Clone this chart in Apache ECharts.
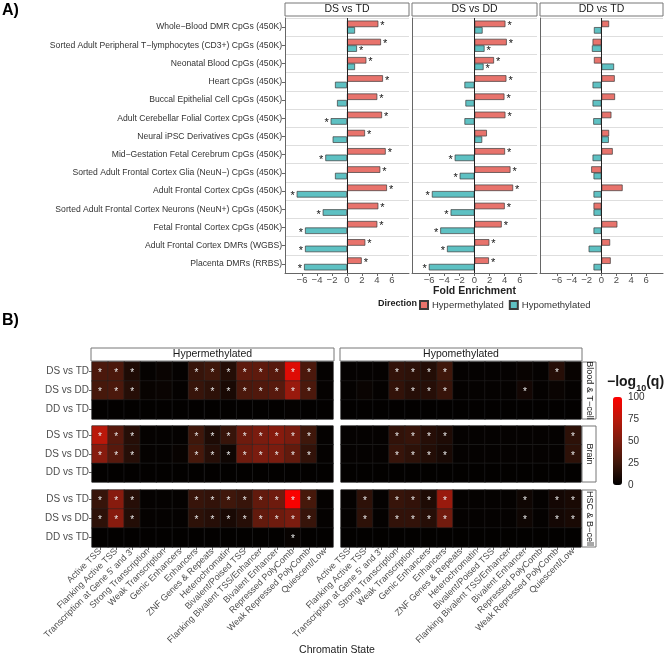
<!DOCTYPE html>
<html>
<head>
<meta charset="utf-8">
<script src="https://cdn.jsdelivr.net/npm/echarts@6/dist/echarts.min.js"></script>
<style>
html, body { margin: 0; padding: 0; background: #fff; }
#chart { width: 666px; height: 656px; }
</style>
</head>
<body>
<div id="chart"></div>
<script>
// ---- panel A data ----
const rowLabels = [
  'Whole−Blood DMR CpGs (450K)',
  'Sorted Adult Peripheral T−lymphocytes (CD3+) CpGs (450K)',
  'Neonatal Blood CpGs (450K)',
  'Heart CpGs (450K)',
  'Buccal Epithelial Cell CpGs (450K)',
  'Adult Cerebellar Folial Cortex CpGs (450K)',
  'Neural iPSC Derivatives CpGs (450K)',
  'Mid−Gestation Fetal Cerebrum CpGs (450K)',
  'Sorted Adult Frontal Cortex Glia (NeuN−) CpGs (450K)',
  'Adult Frontal Cortex CpGs (450K)',
  'Sorted Adult Frontal Cortex Neurons (NeuN+) CpGs (450K)',
  'Fetal Frontal Cortex CpGs (450K)',
  'Adult Frontal Cortex DMRs (WGBS)',
  'Placenta DMRs (RRBS)'
];
const facetNames = ['DS vs TD', 'DS vs DD', 'DD vs TD'];
const foldTicks = [-6, -4, -2, 0, 2, 4, 6];

const dsTdHyper = [4.18, 4.53, 2.58, 4.8, 4.04, 4.67, 2.4, 5.16, 4.44, 5.33, 4.18, 4.04, 2.44, 1.96];
const dsTdHypo = [1.07, 1.33, 1.07, -1.6, -1.33, -2.18, -1.91, -2.89, -1.6, -6.71, -3.24, -5.6, -5.6, -5.73];
const dsDdHyper = [4.09, 4.27, 2.58, 4.22, 3.96, 4.09, 1.64, 4.04, 4.76, 5.11, 4.0, 3.6, 1.96, 1.91];
const dsDdHypo = [1.07, 1.33, 1.2, -1.33, -1.2, -1.33, 1.02, -2.62, -1.96, -5.64, -3.16, -4.53, -3.64, -6.04];
const ddTdHyper = [1.02, -1.2, -1.02, 1.78, 1.82, 1.33, 1.02, 1.51, -1.38, 2.84, -1.07, 2.13, 1.16, 1.24];
const ddTdHypo = [-1.02, -1.29, 1.69, -1.2, -1.2, -1.11, 0.98, -1.2, -1.07, -1.07, -1.07, -1.07, -1.73, -1.07];

// 1 = significant (star)
const dsTdHyperSig = [1, 1, 1, 1, 1, 1, 1, 1, 1, 1, 1, 1, 1, 1];
const dsTdHypoSig = [0, 1, 0, 0, 0, 1, 0, 1, 0, 1, 1, 1, 1, 1];
const dsDdHyperSig = [1, 1, 1, 1, 1, 1, 0, 1, 1, 1, 1, 1, 1, 1];
const dsDdHypoSig = [0, 1, 1, 0, 0, 0, 0, 1, 1, 1, 1, 1, 1, 1];
const ddTdHyperSig = [0, 0, 0, 0, 0, 0, 0, 0, 0, 0, 0, 0, 0, 0];
const ddTdHypoSig = [0, 0, 0, 0, 0, 0, 0, 0, 0, 0, 0, 0, 0, 0];

// ---- panel B data ----
const chromStates = [
  'Active TSS', 'Flanking Active TSS', "Transcription at Gene 5' and 3'",
  'Strong Transcription', 'Weak Transcription', 'Genic Enhancers', 'Enhancers',
  'ZNF Genes & Repeats', 'Heterochromatin', 'Bivalent/Poised TSS',
  'Flanking Bivalent TSS/Enhancer', 'Bivalent Enhancer', 'Repressed PolyComb',
  'Weak Repressed PolyComb', 'Quiescent/Low'
];
const contrasts = ['DS vs TD', 'DS vs DD', 'DD vs TD'];
const tissues = ['Blood & T−cell', 'Brain', 'HSC & B−cell'];
const directions = ['Hypermethylated', 'Hypomethylated'];
const colorTicks = [0, 25, 50, 75, 100];

const bloodHyper = [
  [30, 30, 12, 2, 4, 2, 22, 25, 14, 38, 38, 35, 88, 30, 2],
  [28, 30, 15, 3, 4, 2, 22, 18, 10, 30, 32, 35, 62, 30, 2],
  [1, 1, 1, 1, 1, 1, 1, 1, 1, 1, 1, 1, 2, 1, 1]
];
const bloodHypo = [
  [2, 2, 2, 20, 18, 14, 25, 2, 2, 2, 2, 3, 2, 15, 3],
  [2, 4, 2, 20, 15, 15, 22, 2, 2, 2, 2, 8, 2, 4, 2],
  [1, 1, 1, 1, 1, 1, 1, 1, 1, 1, 1, 1, 1, 1, 1]
];
const brainHyper = [
  [75, 35, 15, 2, 2, 2, 25, 12, 22, 45, 50, 55, 50, 25, 2],
  [55, 35, 15, 2, 2, 3, 28, 15, 6, 45, 50, 50, 40, 20, 2],
  [1, 1, 1, 1, 1, 1, 1, 1, 1, 1, 1, 1, 1, 1, 1]
];
const brainHypo = [
  [2, 2, 2, 20, 22, 15, 12, 2, 2, 2, 2, 2, 2, 2, 18],
  [2, 2, 2, 22, 18, 14, 10, 2, 2, 2, 2, 2, 2, 2, 18],
  [1, 1, 1, 1, 1, 1, 1, 1, 1, 1, 1, 1, 1, 1, 1]
];
const hscHyper = [
  [22, 55, 15, 2, 2, 2, 22, 20, 25, 22, 40, 45, 98, 28, 2],
  [18, 55, 14, 2, 2, 2, 18, 15, 10, 15, 40, 45, 50, 22, 2],
  [1, 1, 1, 1, 1, 1, 1, 1, 1, 1, 1, 1, 3, 1, 1]
];
const hscHypo = [
  [2, 18, 2, 22, 20, 12, 62, 2, 2, 2, 2, 6, 2, 8, 10],
  [2, 18, 2, 20, 20, 15, 46, 2, 2, 2, 2, 6, 2, 8, 10],
  [1, 1, 1, 1, 1, 1, 1, 1, 1, 1, 1, 1, 1, 1, 1]
];

// significant columns per contrast row
const bloodHyperSig = [[0, 1, 2, 6, 7, 8, 9, 10, 11, 12, 13], [0, 1, 2, 6, 7, 8, 9, 10, 11, 12, 13], []];
const bloodHypoSig = [[3, 4, 5, 6, 13], [3, 4, 5, 6, 11], []];
const brainHyperSig = [[0, 1, 2, 6, 7, 8, 9, 10, 11, 12, 13], [0, 1, 2, 6, 7, 8, 9, 10, 11, 12, 13], []];
const brainHypoSig = [[3, 4, 5, 6, 14], [3, 4, 5, 6, 14], []];
const hscHyperSig = [[0, 1, 2, 6, 7, 8, 9, 10, 11, 12, 13], [0, 1, 2, 6, 7, 8, 9, 10, 11, 12, 13], [12]];
const hscHypoSig = [[1, 3, 4, 5, 6, 11, 13, 14], [1, 3, 4, 5, 6, 11, 13, 14], []];

const FONT = '"Liberation Sans", Arial, Helvetica, sans-serif';
const minus = v => (v < 0 ? '−' + Math.abs(v) : String(v));

const foldHyper = [dsTdHyper, dsDdHyper, ddTdHyper];
const foldHypo = [dsTdHypo, dsDdHypo, ddTdHypo];
const foldHyperSig = [dsTdHyperSig, dsDdHyperSig, ddTdHyperSig];
const foldHypoSig = [dsTdHypoSig, dsDdHypoSig, ddTdHypoSig];
const heat = [[bloodHyper, bloodHypo], [brainHyper, brainHypo], [hscHyper, hscHypo]];
const heatSig = [[bloodHyperSig, bloodHypoSig], [brainHyperSig, brainHypoSig], [hscHyperSig, hscHypoSig]];

const grid = [], xAxis = [], yAxis = [], series = [];
const graphic = [];

// ---- panel A: facets of horizontal bars ----
const aBox = [[285, 124], [412, 125], [540, 123]];
aBox.forEach(function (b, f) {
  grid.push({ left: b[0], top: 18, width: b[1], height: 255, outerBoundsMode: 'none' });
  xAxis.push({
    type: 'value', gridIndex: f, min: -8.27, max: 8.27,
    splitLine: { show: false },
    axisLine: { show: true, onZero: false, lineStyle: { color: '#666' } },
    axisTick: { show: true, length: 3, customValues: foldTicks, lineStyle: { color: '#666' } },
    axisLabel: { customValues: foldTicks, formatter: minus, fontSize: 9.5, color: '#4d4d4d', margin: 2, fontFamily: FONT },
    name: f === 1 ? 'Fold Enrichment' : '',
    nameLocation: 'middle', nameGap: 13,
    nameTextStyle: { fontSize: 10.5, fontWeight: 'bold', color: '#222', fontFamily: FONT }
  });
  yAxis.push({
    type: 'category', gridIndex: f, data: rowLabels, inverse: true,
    axisLine: { show: true, onZero: false, lineStyle: { color: '#666' } },
    axisTick: { show: f === 0, alignWithLabel: true, length: 3, lineStyle: { color: '#666' } },
    axisLabel: { show: f === 0, fontSize: 8.6, color: '#333', margin: 3, fontFamily: FONT },
    splitLine: { show: true, lineStyle: { color: '#dedede', width: 1 } }
  });
  const starLabel = {
    show: true, fontSize: 11, color: '#111', distance: 2, offset: [0, 2], fontFamily: FONT,
    formatter: p => (p.data.sig ? '*' : '')
  };
  series.push({
    name: 'Hypermethylated', type: 'bar', xAxisIndex: f, yAxisIndex: f,
    barWidth: 6.5, barGap: '0%',
    itemStyle: { color: '#E8736C', borderColor: '#3b3b3b', borderWidth: 0.7 },
    label: starLabel,
    data: foldHyper[f].map((v, i) => ({ value: v, sig: foldHyperSig[f][i], label: { position: v >= 0 ? 'right' : 'left' } })),
    markLine: {
      silent: true, symbol: 'none', label: { show: false },
      lineStyle: { color: '#222', width: 1, type: 'solid' },
      data: [{ xAxis: 0 }]
    }
  });
  series.push({
    name: 'Hypomethylated', type: 'bar', xAxisIndex: f, yAxisIndex: f,
    barWidth: 6.5, barGap: '0%',
    itemStyle: { color: '#5EC1C3', borderColor: '#3b3b3b', borderWidth: 0.7 },
    label: starLabel,
    data: foldHypo[f].map((v, i) => ({ value: v, sig: foldHypoSig[f][i], label: { position: v >= 0 ? 'right' : 'left' } }))
  });
  // facet strip
  graphic.push({ type: 'rect', shape: { x: b[0], y: 3, width: b[1], height: 13 }, style: { fill: '#fff', stroke: '#777', lineWidth: 1 } });
  graphic.push({ type: 'text', x: b[0] + b[1] / 2, y: 9.5, style: { text: facetNames[f], align: 'center', verticalAlign: 'middle', fontSize: 10.5, fill: '#1a1a1a', fontFamily: FONT } });
});

// ---- panel B: heatmaps ----
const bTops = [362, 426, 490], bHeights = [57, 56, 57];
const bBox = [[92, 241], [341, 240]];
const heatIdx = [];
tissues.forEach(function (t, g) {
  bBox.forEach(function (b, d) {
    const gi = grid.length;
    grid.push({ left: b[0], top: bTops[g], width: b[1], height: bHeights[g], outerBoundsMode: 'none',
      show: true, borderColor: '#888', borderWidth: 1, backgroundColor: 'transparent' });
    xAxis.push({
      type: 'category', gridIndex: gi, data: chromStates,
      axisLine: { show: false },
      axisTick: { show: g === 2, alignWithLabel: true, length: 3, lineStyle: { color: '#666' } },
      axisLabel: { show: g === 2, rotate: 45, interval: 0, fontSize: 9, color: '#4d4d4d', margin: 3, fontFamily: FONT },
      splitLine: { show: false }
    });
    yAxis.push({
      type: 'category', gridIndex: gi, data: contrasts, inverse: true,
      axisLine: { show: false },
      axisTick: { show: d === 0, alignWithLabel: true, length: 3, lineStyle: { color: '#666' } },
      axisLabel: { show: d === 0, fontSize: 10, color: '#4d4d4d', margin: 3, fontFamily: FONT },
      splitLine: { show: false }
    });
    const data = [];
    heat[g][d].forEach(function (row, r) {
      row.forEach(function (v, c) {
        data.push([c, r, v, heatSig[g][d][r].indexOf(c) >= 0 ? 1 : 0]);
      });
    });
    heatIdx.push(series.length);
    series.push({
      type: 'heatmap', xAxisIndex: gi, yAxisIndex: gi, data: data,
      itemStyle: { borderColor: '#262626', borderWidth: 0.5 },
      label: { show: true, color: '#e8e8e8', fontSize: 10, offset: [0, 2], fontFamily: FONT,
        formatter: p => (p.data[3] ? '*' : '') },
      emphasis: { disabled: true }
    });
    // right strip per tissue
    if (d === 1) {
      graphic.push({ type: 'rect', shape: { x: 582, y: bTops[g], width: 14, height: bHeights[g] }, style: { fill: '#fff', stroke: '#777', lineWidth: 1 } });
      graphic.push({ type: 'text', x: 589, y: bTops[g] + bHeights[g] / 2, rotation: -Math.PI / 2,
        style: { text: t, align: 'center', verticalAlign: 'middle', fontSize: 9, fill: '#1a1a1a', fontFamily: FONT } });
    }
  });
});
// top strips for direction
bBox.forEach(function (b, d) {
  graphic.push({ type: 'rect', shape: { x: b[0] - 1, y: 348, width: b[1] + 2, height: 13 }, style: { fill: '#fff', stroke: '#777', lineWidth: 1 } });
  graphic.push({ type: 'text', x: b[0] + b[1] / 2, y: 354.5, style: { text: directions[d], align: 'center', verticalAlign: 'middle', fontSize: 10.5, fill: '#1a1a1a', fontFamily: FONT } });
});

// colour bar axis
const cbIdx = grid.length;
grid.push({ left: 613, top: 397, width: 9, height: 88, outerBoundsMode: 'none' });
xAxis.push({ type: 'value', gridIndex: cbIdx, show: false, min: 0, max: 1 });
yAxis.push({
  type: 'value', gridIndex: cbIdx, min: 0, max: 100, interval: 25, position: 'right', z: 10,
  axisLine: { show: false }, splitLine: { show: false },
  axisTick: { show: true, inside: true, length: 2, customValues: colorTicks, lineStyle: { color: '#fff' } },
  axisLabel: { customValues: colorTicks, fontSize: 10, color: '#333', margin: 6, fontFamily: FONT }
});

graphic.push({ type: 'text', x: 378, y: 304, style: { text: 'Direction', verticalAlign: 'middle', fontSize: 9, fontWeight: 'bold', fill: '#1a1a1a', fontFamily: FONT } });
graphic.push({ type: 'text', x: 337, y: 650, style: { text: 'Chromatin State', align: 'center', verticalAlign: 'middle', fontSize: 10.5, fill: '#1a1a1a', fontFamily: FONT } });

const option = {
  animation: false,
  backgroundColor: '#fff',
  textStyle: { fontFamily: FONT },
  title: [
    { text: 'A)', left: 2, top: 3, padding: 0, textStyle: { fontSize: 16, fontWeight: 'bold', color: '#000', fontFamily: FONT } },
    { text: 'B)', left: 2, top: 313, padding: 0, textStyle: { fontSize: 16, fontWeight: 'bold', color: '#000', fontFamily: FONT } },
    { text: '{a|−log}{s|10}{a|(q)}', left: 607, top: 375, padding: 0,
      textStyle: { rich: {
        a: { fontSize: 14, color: '#1a1a1a', fontFamily: FONT, verticalAlign: 'top', lineHeight: 18 },
        s: { fontSize: 9, color: '#1a1a1a', fontFamily: FONT, verticalAlign: 'bottom', lineHeight: 18 }
      } } }
  ],
  legend: {
    data: ['Hypermethylated', 'Hypomethylated'],
    left: 419, top: 300, padding: 0, itemWidth: 8, itemHeight: 8, itemGap: 5,
    icon: 'rect', selectedMode: false,
    textStyle: { fontSize: 9.5, color: '#333', fontFamily: FONT, padding: [0, 0, 0, -1] }
  },
  visualMap: {
    type: 'continuous', min: 0, max: 100, dimension: 2, seriesIndex: heatIdx,
    left: 613, top: 397, itemWidth: 9, itemHeight: 88, padding: 0,
    calculable: false, hoverLink: false, text: null, showLabel: false,
    inRange: { color: ['#000000', '#3f170b', '#7a1c0f', '#ba180a', '#ff0000'] }
  },
  grid: grid,
  xAxis: xAxis,
  yAxis: yAxis,
  series: series,
  graphic: graphic
};

const chart = echarts.init(document.getElementById('chart'));
chart.setOption(option);
</script>
</body>
</html>
